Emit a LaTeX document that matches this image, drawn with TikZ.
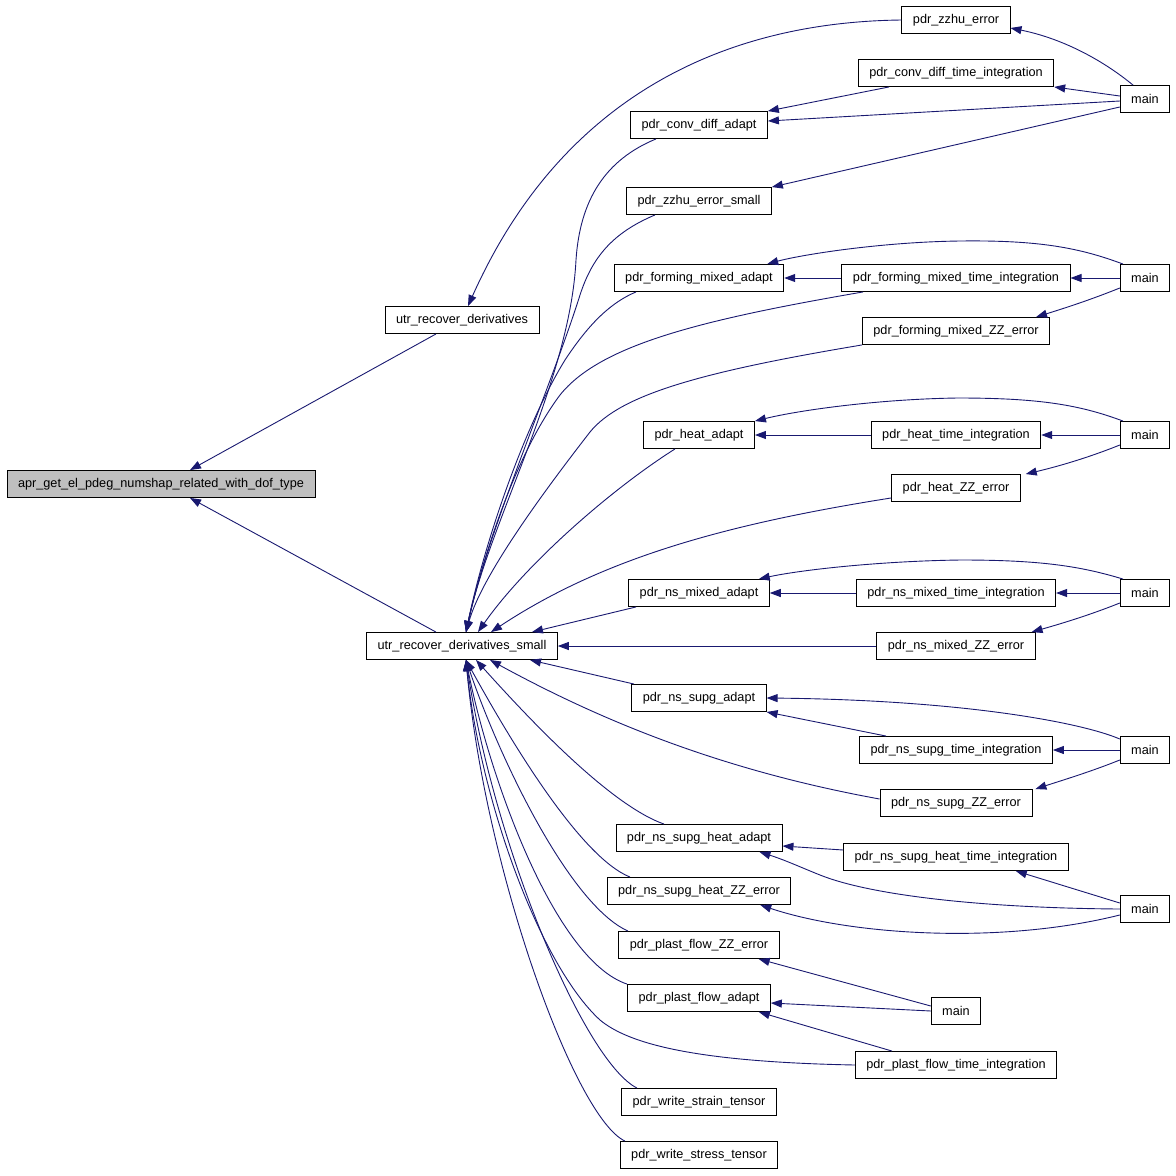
\documentclass[tikz,border=0pt]{standalone}
\usepackage{fontspec}
\setmainfont{Liberation Sans}
\usepackage{tikz}
\usepgflibrary{arrows.meta}
\definecolor{callblue}{HTML}{191970}
\definecolor{rootgrey}{HTML}{BFBFBF}
\tikzset{
  fn/.style={draw=black,line width=.9pt,rectangle,minimum height=27pt,inner xsep=11pt,inner ysep=0pt,
    font=\fontsize{12.7pt}{14pt}\selectfont},
  rootfn/.style={fn,fill=rootgrey},
  edge/.style={draw=callblue,line width=.9pt,-{Triangle[length=11pt,width=8pt]}},
}
\begin{document}
\begin{tikzpicture}[x=1pt,y=-1pt]
  \useasboundingbox (0,0) rectangle (1176,1176);
  % callee side
  \node[rootfn] (root) at (161,484) {apr\_get\_el\_pdeg\_numshap\_related\_with\_dof\_type};
  \node[fn] (rd)  at (462,320) {utr\_recover\_derivatives};
  \node[fn] (rds) at (462,646) {utr\_recover\_derivatives\_small};
  % callers, middle column
  \node[fn] (cda)  at (699,125)  {pdr\_conv\_diff\_adapt};
  \node[fn] (zzs)  at (699,201)  {pdr\_zzhu\_error\_small};
  \node[fn] (fma)  at (699,278)  {pdr\_forming\_mixed\_adapt};
  \node[fn] (ha)   at (699,435)  {pdr\_heat\_adapt};
  \node[fn] (nma)  at (699,593)  {pdr\_ns\_mixed\_adapt};
  \node[fn] (nsa)  at (699,698)  {pdr\_ns\_supg\_adapt};
  \node[fn] (nsha) at (699,838)  {pdr\_ns\_supg\_heat\_adapt};
  \node[fn] (nshz) at (699,891)  {pdr\_ns\_supg\_heat\_ZZ\_error};
  \node[fn] (pfzz) at (699,945)  {pdr\_plast\_flow\_ZZ\_error};
  \node[fn] (pfa)  at (699,998)  {pdr\_plast\_flow\_adapt};
  \node[fn] (wst)  at (699,1102) {pdr\_write\_strain\_tensor};
  \node[fn] (wss)  at (699,1155) {pdr\_write\_stress\_tensor};
  % callers, right column
  \node[fn] (zzhu)  at (956,20)   {pdr\_zzhu\_error};
  \node[fn] (cdti)  at (956,73)   {pdr\_conv\_diff\_time\_integration};
  \node[fn] (fmti)  at (956,278)  {pdr\_forming\_mixed\_time\_integration};
  \node[fn] (fmzz)  at (956,331)  {pdr\_forming\_mixed\_ZZ\_error};
  \node[fn] (hti)   at (956,435)  {pdr\_heat\_time\_integration};
  \node[fn] (hzz)   at (956,488)  {pdr\_heat\_ZZ\_error};
  \node[fn] (nmti)  at (956,593)  {pdr\_ns\_mixed\_time\_integration};
  \node[fn] (nmzz)  at (956,646)  {pdr\_ns\_mixed\_ZZ\_error};
  \node[fn] (nsti)  at (956,750)  {pdr\_ns\_supg\_time\_integration};
  \node[fn] (nszz)  at (956,803)  {pdr\_ns\_supg\_ZZ\_error};
  \node[fn] (nshti) at (956,857)  {pdr\_ns\_supg\_heat\_time\_integration};
  \node[fn] (mainG) at (956,1011) {main};
  \node[fn] (pfti)  at (956,1065) {pdr\_plast\_flow\_time\_integration};
  % main
  \node[fn] (mainA) at (1145,99)  {main};
  \node[fn] (mainB) at (1145,278) {main};
  \node[fn] (mainC) at (1145,435) {main};
  \node[fn] (mainD) at (1145,593) {main};
  \node[fn] (mainE) at (1145,750) {main};
  \node[fn] (mainF) at (1145,909) {main};
  % arrow tips on utr_recover_derivatives_small
  \coordinate (t1) at ([xshift=4pt]rds.north);
  \coordinate (t2) at ([xshift=16pt]rds.north);
  \coordinate (t3) at ([xshift=29pt]rds.north);
  \coordinate (t4) at ([xshift=70pt]rds.north);
  \coordinate (b1) at ([xshift=4pt]rds.south);
  \coordinate (b2) at ([xshift=14pt]rds.south);
  \coordinate (b3) at ([xshift=28pt]rds.south);
  \coordinate (b4) at ([xshift=68pt]rds.south);

  \draw[edge] ([xshift=-26pt]rd.south) -- ([xshift=29pt]root.north);
  \draw[edge] ([xshift=-26pt]rds.north) -- ([xshift=29pt]root.south);
  \draw[edge] (zzhu.west) .. controls (720,22) and (560,100) .. ([xshift=6pt]rd.north);

  % top block
  \draw[edge] ([xshift=-12pt]mainA.north) .. controls (1100,58) and (1060,38) .. ([yshift=-8pt]zzhu.east);
  \draw[edge] ([yshift=3pt]mainA.west) -- (cdti.south east);
  \draw[edge] ([yshift=-2pt]mainA.west) -- ([yshift=4pt]cda.east);
  \draw[edge] ([yshift=-8pt]mainA.west) -- (zzs.north east);
  \draw[edge] ([xshift=-67pt]cdti.south) -- (cda.north east);
  \draw[edge] ([xshift=-43pt]cda.south) .. controls (605,160) and (580,200) .. (576,260)
    .. controls (570,380) and (490,520) .. (t1);
  \draw[edge] ([xshift=-44pt]zzs.south) .. controls (612,233) and (592,258) .. (580,295)
    .. controls (550,390) and (488,530) .. (t1);

  % forming
  \draw[edge] ([xshift=-22pt]mainB.north) .. controls (1080,248) and (1040,240) .. (960,241)
    .. controls (880,242) and (800,255) .. ([xshift=-17pt]fma.north east);
  \draw[edge] (fmti.west) -- (fma.east);
  \draw[edge] (mainB.west) -- (fmti.east);
  \draw[edge] ([yshift=-10pt]mainB.west) .. controls (1090,300) and (1065,308) .. ([xshift=-14pt]fmzz.north east);
  \draw[edge] ([xshift=-63pt]fma.south) .. controls (612,302) and (590,322) .. (565,360)
    .. controls (525,425) and (485,540) .. (t1);
  \draw[edge] ([xshift=-93pt]fmti.south) .. controls (700,320) and (600,345) .. (560,395)
    .. controls (515,455) and (482,560) .. (t1);
  \draw[edge] (fmzz.south west) .. controls (700,372) and (620,395) .. (590,432)
    .. controls (545,490) and (482,575) .. (t1);

  % heat
  \draw[edge] ([xshift=-22pt]mainC.north) .. controls (1080,405) and (1040,398) .. (958,398)
    .. controls (880,399) and (800,410) .. (ha.north east);
  \draw[edge] (hti.west) -- (ha.east);
  \draw[edge] (mainC.west) -- (hti.east);
  \draw[edge] ([yshift=-10pt]mainC.west) .. controls (1090,457) and (1060,466) .. ([xshift=5pt]hzz.north east);
  \draw[edge] ([xshift=-24pt]ha.south) .. controls (610,490) and (525,565) .. (t2);
  \draw[edge] ([yshift=4pt]hzz.south west) .. controls (720,525) and (600,560) .. (t3);

  % ns mixed
  \draw[edge] ([xshift=-22pt]mainD.north) .. controls (1080,566) and (1040,560) .. (961,560)
    .. controls (880,561) and (800,570) .. ([xshift=-11pt]nma.north east);
  \draw[edge] (nmti.west) -- (nma.east);
  \draw[edge] (mainD.west) -- (nmti.east);
  \draw[edge] ([yshift=-10pt]mainD.west) .. controls (1090,615) and (1060,624) .. ([xshift=-4pt]nmzz.north east);
  \draw[edge] ([xshift=-63pt]nma.south) -- (t4);
  \draw[edge] (nmzz.west) -- (rds.east);

  % ns supg
  \draw[edge] ([yshift=11pt]mainE.west) .. controls (1080,722) and (960,700) .. (nsa.east);
  \draw[edge] ([xshift=-70pt]nsti.north) -- (nsa.south east);
  \draw[edge] (mainE.west) -- (nsti.east);
  \draw[edge] ([yshift=-10pt]mainE.west) .. controls (1090,772) and (1060,781) .. ([xshift=3pt]nszz.north east);
  \draw[edge] ([xshift=-65pt]nsa.north) -- (b4);
  \draw[edge] ([yshift=4pt]nszz.west) .. controls (720,770) and (600,720) .. (b3);

  % ns supg heat
  \draw[edge] ([yshift=7pt]nshti.west) -- ([yshift=-8pt]nsha.east);
  \draw[edge] (mainF.west) .. controls (980,908) and (870,895) .. (820,875)
    .. controls (800,867) and (785,860) .. ([xshift=-23pt]nsha.south east);
  \draw[edge] ([yshift=6pt]mainF.west) -- ([xshift=-53pt]nshti.south east);
  \draw[edge] ([yshift=-6pt]mainF.west) .. controls (1000,945) and (850,935) .. ([xshift=-31pt]nshz.south east);
  \draw[edge] ([xshift=-35pt]nsha.north) .. controls (610,805) and (530,720) .. (b2);
  \draw[edge] ([xshift=-69pt]nshz.north) .. controls (580,857) and (510,740) .. (b1);

  % plast flow
  \draw[edge] ([yshift=5pt]mainG.west) -- ([xshift=-21pt]pfzz.south east);
  \draw[edge] (mainG.west) -- ([yshift=-5pt]pfa.east);
  \draw[edge] ([xshift=-64pt]pfti.north) -- ([xshift=-12pt]pfa.south east);
  \draw[edge] ([xshift=-71pt]pfzz.north) .. controls (570,905) and (500,760) .. (b1);
  \draw[edge] ([xshift=-72pt]pfa.north) .. controls (555,960) and (490,780) .. (b1);
  \draw[edge] (pfti.west) .. controls (700,1062) and (630,1045) .. (600,1020)
    .. controls (540,965) and (480,800) .. (b1);

  % write
  \draw[edge] ([xshift=-62pt]wst.north) .. controls (585,1062) and (495,850) .. (b1);
  \draw[edge] ([xshift=-74pt]wss.north) .. controls (575,1118) and (485,870) .. (b1);
\end{tikzpicture}
\end{document}
